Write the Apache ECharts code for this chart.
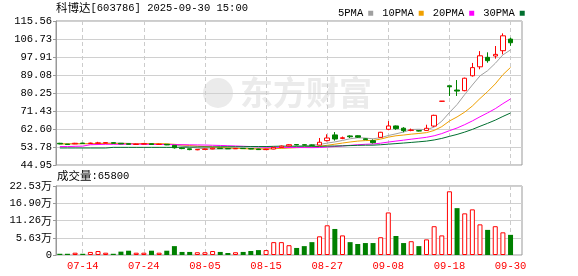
<!DOCTYPE html>
<html><head><meta charset="utf-8">
<script src="https://cdn.jsdelivr.net/npm/echarts@6/dist/echarts.min.js"></script>
<style>html,body{margin:0;padding:0;background:#fff}#c{width:578px;height:276px}</style>
</head><body><div id="c"></div>
<script>
const dates = ['07-09','07-10','07-11','07-14','07-15','07-16','07-17','07-18','07-21','07-22','07-23','07-24','07-25','07-28','07-29','07-30','07-31','08-01','08-04','08-05','08-06','08-07','08-08','08-11','08-12','08-13','08-14','08-15','08-18','08-19','08-20','08-21','08-22','08-25','08-26','08-27','08-28','08-29','09-01','09-02','09-03','09-04','09-05','09-08','09-09','09-10','09-11','09-12','09-15','09-16','09-17','09-18','09-19','09-22','09-23','09-24','09-25','09-26','09-29','09-30'];
const opens  = [55.6,55.2,55.3,55.7,55.5,55.6,55.7,55.9,55.6,55.4,55.0,55.2,55.4,55.0,55.1,54.6,53.3,52.9,52.4,52.6,52.8,53.2,53.0,52.9,53.1,53.0,52.8,52.5,52.8,53.6,54.3,55.0,54.9,54.8,54.7,56.9,59.7,58.0,59.2,59.3,57.8,56.9,58.5,62.45,64.1,63.0,61.9,61.8,61.9,64.05,76.2,83.8,81.7,81.4,88.7,93.1,97.75,98.4,101.0,106.7];
const closes = [55.3,55.0,55.6,55.5,55.7,55.8,55.9,55.6,55.3,55.1,55.2,55.4,55.0,55.2,54.8,53.4,53.0,52.5,52.6,52.8,53.2,53.0,52.9,53.1,53.0,52.8,52.5,52.7,53.6,54.2,54.9,54.8,54.7,54.6,56.1,58.2,57.7,58.3,58.8,58.6,57.4,55.9,61.0,64.1,62.75,61.8,62.1,61.6,62.95,69.3,76.25,83.3,81.2,87.5,92.7,98.5,96.1,99.2,108.3,104.9];
const lows   = [55.1,54.9,55.2,55.4,55.4,55.5,55.5,55.5,55.2,55.0,54.9,55.1,54.9,54.9,54.7,53.0,52.7,52.2,52.2,52.5,52.7,52.9,52.8,52.8,52.9,52.7,52.3,52.4,52.7,53.4,54.1,54.6,54.5,54.3,54.5,56.5,56.9,57.6,58.2,58.3,57.2,55.5,58.3,62.0,62.2,61.0,61.5,61.4,61.6,63.6,76.0,78.8,78.8,81.1,88.3,91.9,95.1,97.1,99.2,103.4];
const highs  = [55.8,55.3,55.8,55.8,55.9,56.3,56.0,56.0,55.7,55.5,55.4,55.6,55.5,55.4,55.2,54.7,53.5,53.0,52.8,53.0,53.4,53.3,53.1,53.2,53.2,53.1,52.9,52.9,53.8,54.5,55.2,55.2,55.0,55.0,58.2,60.0,61.1,58.9,59.5,59.5,58.0,57.5,61.2,66.5,64.3,63.5,62.8,61.9,64.7,69.6,76.3,83.8,86.6,87.8,95.0,100.8,100.2,103.3,109.5,107.4];
const volumes = [4000,4000,7500,4000,10000,13000,7500,4000,11000,14000,7500,7500,14000,7500,14000,29000,10000,10000,9000,9000,13000,10000,6500,9000,10000,13000,16000,16000,42000,42000,32000,23000,29000,42000,61000,97000,85000,64000,42000,36000,39000,39000,58000,139000,62000,39000,45000,29000,51000,94000,64000,208000,153000,136000,149000,100000,82000,94000,74000,65800];
const volUp = [0,0,1,0,1,1,1,0,0,0,1,1,0,1,0,0,0,0,1,1,1,0,0,1,0,0,0,1,1,1,1,0,0,0,1,1,0,1,0,0,0,0,1,1,0,0,1,0,1,1,1,1,0,1,1,1,0,1,1,0];
const ma5  = [55.4,55.3,55.4,55.4,55.42,55.52,55.70,55.70,55.66,55.54,55.42,55.32,55.2,55.18,55.12,54.76,54.28,53.78,53.26,52.86,52.82,52.82,52.9,53.0,53.04,52.96,52.86,52.82,52.92,53.16,53.58,54.04,54.44,54.64,55.02,55.68,56.26,56.98,57.82,58.32,58.16,57.8,58.34,59.4,60.23,61.11,62.35,62.47,62.24,63.55,66.43,70.67,74.59,79.5,84.18,88.64,91.2,94.8,98.96,101.38];
const ma10 = [55.3,55.3,55.35,55.4,55.4,55.45,55.5,55.5,55.5,55.48,55.47,55.51,55.45,55.42,55.33,55.09,54.8,54.49,54.22,53.99,53.79,53.55,53.34,53.13,52.95,52.89,52.84,52.86,52.96,53.1,53.27,53.45,53.63,53.78,54.09,54.63,55.15,55.71,56.23,56.67,56.92,57.03,57.66,58.61,59.28,59.64,60.08,60.41,60.82,61.89,63.77,66.51,68.53,70.87,73.87,77.54,80.94,84.70,89.23,92.79];
const ma20 = [54.0,54.0,54.1,54.2,54.9,55.0,55.1,55.1,55.1,55.2,55.2,55.1,55.1,55.0,55.0,54.95,54.9,54.85,54.8,54.74,54.63,54.53,54.40,54.28,54.14,53.99,53.82,53.68,53.59,53.55,53.53,53.5,53.49,53.46,53.52,53.76,54.0,54.29,54.6,54.89,55.1,55.24,55.65,56.2,56.68,57.13,57.61,58.06,58.53,59.28,60.35,61.77,63.1,64.74,66.57,68.59,70.51,72.55,75.03,77.34];
const ma30 = [53.3,53.3,53.3,53.3,53.3,53.3,53.3,53.6,53.6,53.6,53.6,53.6,53.6,53.6,53.6,53.6,53.7,53.7,53.8,53.8,53.8,53.9,53.9,53.9,53.9,54.0,54.0,54.0,54.1,54.19,54.18,54.17,54.14,54.11,54.12,54.2,54.26,54.35,54.47,54.59,54.66,54.68,54.88,55.17,55.44,55.72,56.02,56.33,56.67,57.22,57.99,59.0,59.94,61.09,62.41,63.93,65.39,66.94,68.76,70.45];
const priceMin = 44.95, priceMax = 115.56;
const volMax = 225290;
const lastVol = '65800';

const RED = '#ff0000', GREEN = '#008000';
const MONO = "'Liberation Mono','Noto Sans CJK SC',monospace";
const CJK = "'Noto Sans CJK SC'";
const cats = dates.concat(['']);
const labelIdx = (i) => i >= 3 && (i - 3) % 8 === 0 && i < dates.length;
const kData = dates.map((d, i) => [opens[i], closes[i], lows[i], highs[i]]);
const vData = volumes.map((v, i) => ({
  value: v,
  itemStyle: volUp[i] ? {color: '#ffffff', borderColor: RED, borderWidth: 1} : {color: GREEN, borderColor: GREEN, borderWidth: 0}
}));
const chart = echarts.init(document.getElementById('c'), null, {renderer: 'canvas'});
const gridStyle = {show: true, borderColor: '#999999', borderWidth: 1, backgroundColor: 'transparent'};
const richText = {
  a: {fontFamily: CJK, fontSize: 11.5, fill: '#000', color: '#000'},
  b: {fontFamily: MONO, fontSize: 10.5, fill: '#000', color: '#000'}
};
chart.setOption({
  animation: false,
  backgroundColor: '#ffffff',
  legend: {
    data: ['5PMA','10PMA','20PMA','30PMA'],
    left: 333, top: 3, align: 'right', icon: 'rect', itemWidth: 5, itemHeight: 5, itemGap: 9,
    textStyle: {fontFamily: MONO, fontSize: 10.5, color: '#000', padding: [0, 0, 0, 0]},
    selectedMode: false
  },
  graphic: [
    {type: 'text', left: 56, top: 2, style: {text: '{a|科博达}{b|[603786] 2025-09-30 15:00}', rich: richText}},
    {type: 'text', left: 57, top: 170, style: {text: '{a|成交量}{b|:' + lastVol + '}', rich: richText}},
    {type: 'text', left: 240, top: 76, z: -1, style: {text: '东方财富', font: "bold 33px 'Noto Sans CJK SC'", fill: '#ebebeb'}},
    {type: 'circle', z: -1, shape: {cx: 218, cy: 93, r: 15}, style: {fill: '#ebebeb'}}
  ],
  grid: [
    Object.assign({left: 56, top: 21, width: 466, height: 144}, gridStyle),
    Object.assign({left: 56, top: 186, width: 466, height: 69}, gridStyle)
  ],
  xAxis: [
    {type: 'category', gridIndex: 0, data: cats, boundaryGap: true,
     axisLine: {show: false}, axisTick: {show: false}, axisLabel: {show: false},
     splitLine: {show: true, alignWithLabel: true, interval: (i) => labelIdx(i), lineStyle: {color: '#cccccc', type: [4, 3], width: 1}}},
    {type: 'category', gridIndex: 1, data: cats, boundaryGap: true,
     axisLine: {show: false}, axisTick: {show: false},
     axisLabel: {show: true, interval: (i) => labelIdx(i), color: RED, fontFamily: MONO, fontSize: 10.5, margin: 6},
     splitLine: {show: true, alignWithLabel: true, interval: (i) => labelIdx(i), lineStyle: {color: '#cccccc', type: [4, 3], width: 1}}}
  ],
  yAxis: [
    {type: 'value', gridIndex: 0, min: priceMin, max: priceMax, interval: (priceMax - priceMin) / 8, scale: true,
     axisLine: {show: true, lineStyle: {color: '#999999'}}, axisTick: {show: true, length: 3, lineStyle: {color: '#999999'}},
     axisLabel: {formatter: (v) => v.toFixed(2), color: '#000', fontFamily: MONO, fontSize: 10.5, margin: 4},
     splitLine: {show: true, lineStyle: {color: '#d0d0d0', width: 1}}},
    {type: 'value', gridIndex: 1, min: 0, max: volMax, interval: volMax / 4,
     axisLine: {show: true, lineStyle: {color: '#999999'}}, axisTick: {show: true, length: 3, lineStyle: {color: '#999999'}},
     axisLabel: {formatter: (v) => v === 0 ? '{b|0}' : '{b|' + (v / 10000).toFixed(2) + '}{a|万}',
       rich: {a: {fontFamily: CJK, fontSize: 11, color: '#000'}, b: {fontFamily: MONO, fontSize: 10.5, color: '#000'}}, margin: 4},
     splitLine: {show: true, lineStyle: {color: '#d0d0d0', width: 1}}}
  ],
  series: [
    {type: 'candlestick', name: 'K', xAxisIndex: 0, yAxisIndex: 0, data: kData, barWidth: 5,
     itemStyle: {color: '#ffffff', color0: GREEN, borderColor: RED, borderColor0: GREEN, borderWidth: 1}},
    {type: 'line', name: '5PMA', data: ma5, xAxisIndex: 0, yAxisIndex: 0, symbol: 'none', color: '#a0a0a0', lineStyle: {width: 1, color: '#a0a0a0'}, z: 1},
    {type: 'line', name: '10PMA', data: ma10, xAxisIndex: 0, yAxisIndex: 0, symbol: 'none', color: '#f0a000', lineStyle: {width: 1, color: '#f0a000'}, z: 1},
    {type: 'line', name: '20PMA', data: ma20, xAxisIndex: 0, yAxisIndex: 0, symbol: 'none', color: '#ff00ff', lineStyle: {width: 1, color: '#ff00ff'}, z: 1},
    {type: 'line', name: '30PMA', data: ma30, xAxisIndex: 0, yAxisIndex: 0, symbol: 'none', color: '#006f2f', lineStyle: {width: 1, color: '#006f2f'}, z: 1},
    {type: 'bar', name: 'VOL', xAxisIndex: 1, yAxisIndex: 1, data: vData, barWidth: 5}
  ]
});
</script></body></html>
